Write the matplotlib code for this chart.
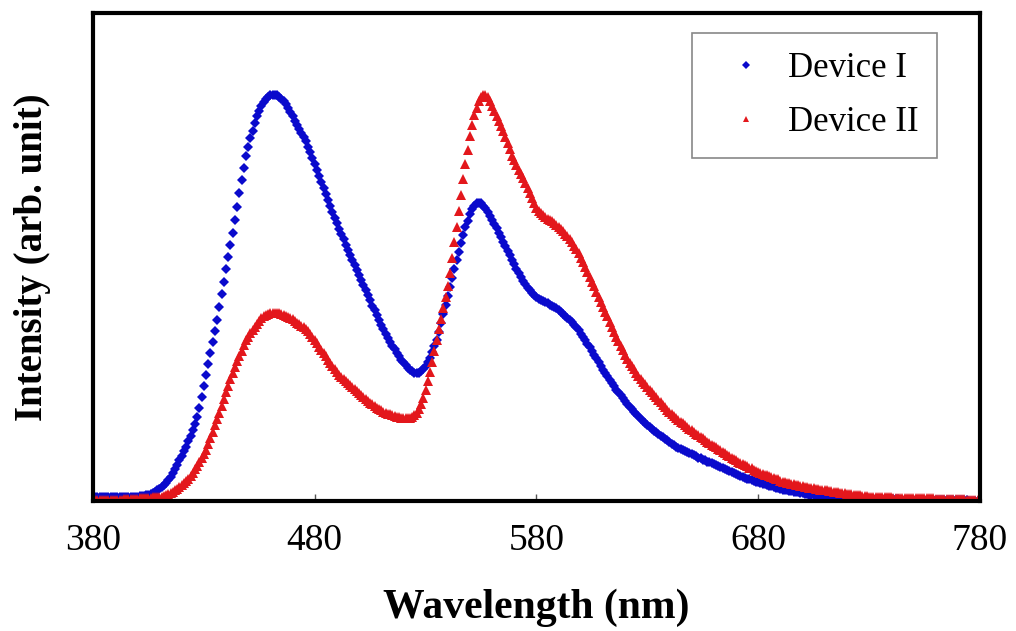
import numpy as np
import matplotlib
matplotlib.use("Agg")
import matplotlib.pyplot as plt

plt.rcParams['font.family'] = ['Liberation Serif', 'DejaVu Serif']

# wavelength grid (nm), 1 nm step as in the measured spectra
wavelength = np.arange(380, 781)

# normalised EL intensity, one value per nm from 380 nm
device_1 = [
    0.010, 0.010, 0.010, 0.010, 0.010, 0.010, 0.010, 0.010, 0.010, 0.010,
    0.010, 0.010, 0.010, 0.010, 0.010, 0.010, 0.010, 0.010, 0.010, 0.010,
    0.011, 0.012, 0.012, 0.013, 0.014, 0.015, 0.017, 0.019, 0.022, 0.026,
    0.030, 0.034, 0.039, 0.045, 0.052, 0.060, 0.068, 0.078, 0.089, 0.100,
    0.111, 0.122, 0.133, 0.147, 0.161, 0.175, 0.190, 0.207, 0.230, 0.255,
    0.282, 0.310, 0.337, 0.365, 0.392, 0.419, 0.446, 0.478, 0.510, 0.540,
    0.570, 0.600, 0.630, 0.660, 0.692, 0.724, 0.757, 0.790, 0.820, 0.850,
    0.872, 0.892, 0.910, 0.929, 0.946, 0.960, 0.972, 0.982, 0.990, 0.995,
    0.999, 1.000, 1.000, 0.998, 0.994, 0.990, 0.985, 0.977, 0.968, 0.957,
    0.946, 0.936, 0.925, 0.915, 0.905, 0.895, 0.885, 0.872, 0.858, 0.845,
    0.830, 0.815, 0.800, 0.785, 0.770, 0.755, 0.740, 0.725, 0.710, 0.697,
    0.684, 0.670, 0.657, 0.644, 0.631, 0.618, 0.605, 0.592, 0.580, 0.568,
    0.556, 0.544, 0.532, 0.519, 0.506, 0.494, 0.481, 0.469, 0.457, 0.445,
    0.434, 0.423, 0.412, 0.402, 0.392, 0.382, 0.373, 0.364, 0.356, 0.348,
    0.341, 0.334, 0.328, 0.323, 0.319, 0.316, 0.315, 0.316, 0.319, 0.324,
    0.331, 0.341, 0.353, 0.366, 0.381, 0.397, 0.417, 0.438, 0.460, 0.482,
    0.504, 0.526, 0.548, 0.570, 0.592, 0.613, 0.634, 0.654, 0.673, 0.690,
    0.705, 0.718, 0.727, 0.732, 0.734, 0.732, 0.727, 0.720, 0.712, 0.702,
    0.692, 0.682, 0.671, 0.660, 0.649, 0.638, 0.627, 0.616, 0.605, 0.594,
    0.583, 0.572, 0.562, 0.552, 0.542, 0.533, 0.525, 0.518, 0.512, 0.507,
    0.502, 0.498, 0.495, 0.492, 0.489, 0.486, 0.483, 0.480, 0.477, 0.474,
    0.470, 0.465, 0.460, 0.455, 0.450, 0.445, 0.440, 0.434, 0.428, 0.420,
    0.412, 0.404, 0.396, 0.387, 0.379, 0.370, 0.360, 0.351, 0.342, 0.332,
    0.323, 0.315, 0.307, 0.298, 0.290, 0.282, 0.274, 0.267, 0.260, 0.253,
    0.246, 0.239, 0.232, 0.226, 0.220, 0.214, 0.208, 0.203, 0.197, 0.192,
    0.187, 0.182, 0.177, 0.173, 0.169, 0.165, 0.161, 0.157, 0.153, 0.149,
    0.145, 0.141, 0.137, 0.134, 0.131, 0.128, 0.125, 0.122, 0.120, 0.117,
    0.115, 0.112, 0.110, 0.107, 0.105, 0.102, 0.100, 0.097, 0.095, 0.093,
    0.090, 0.088, 0.086, 0.083, 0.081, 0.078, 0.076, 0.073, 0.071, 0.068,
    0.066, 0.063, 0.061, 0.059, 0.057, 0.055, 0.053, 0.052, 0.050, 0.048,
    0.046, 0.044, 0.042, 0.041, 0.039, 0.038, 0.036, 0.035, 0.033, 0.031,
    0.029, 0.028, 0.027, 0.026, 0.025, 0.024, 0.023, 0.022, 0.021, 0.020,
    0.019, 0.018, 0.017, 0.016, 0.015, 0.014, 0.014, 0.013, 0.012, 0.012,
    0.011, 0.011, 0.010, 0.010, 0.009, 0.009, 0.008, 0.008, 0.007, 0.007,
    0.007, 0.006, 0.006, 0.006, 0.006, 0.005, 0.005, 0.005, 0.005, 0.005,
    0.004, 0.004, 0.004, 0.004, 0.004, 0.004, 0.004, 0.004, 0.004, 0.004,
    0.004, 0.004, 0.004, 0.004, 0.003, 0.003, 0.003, 0.003, 0.003, 0.003,
    0.003, 0.003, 0.003, 0.002, 0.002, 0.002, 0.002, 0.002, 0.002, 0.002,
    0.002, 0.002, 0.002, 0.002, 0.002, 0.002, 0.002, 0.002, 0.002, 0.002,
    0.002, 0.002, 0.002, 0.002, 0.002, 0.001, 0.001, 0.001, 0.001, 0.001,
    0.001,
]

device_2 = [
    0.003, 0.003, 0.003, 0.003, 0.003, 0.003, 0.003, 0.003, 0.003, 0.003,
    0.003, 0.003, 0.003, 0.003, 0.004, 0.004, 0.004, 0.005, 0.005, 0.006,
    0.006, 0.007, 0.007, 0.007, 0.008, 0.008, 0.008, 0.009, 0.009, 0.010,
    0.010, 0.011, 0.013, 0.015, 0.017, 0.019, 0.022, 0.026, 0.030, 0.034,
    0.039, 0.044, 0.049, 0.055, 0.062, 0.070, 0.078, 0.087, 0.096, 0.105,
    0.115, 0.126, 0.140, 0.155, 0.170, 0.186, 0.201, 0.217, 0.234, 0.251,
    0.268, 0.284, 0.300, 0.315, 0.330, 0.344, 0.357, 0.370, 0.383, 0.395,
    0.404, 0.413, 0.421, 0.429, 0.436, 0.444, 0.450, 0.454, 0.457, 0.460,
    0.462, 0.463, 0.463, 0.463, 0.462, 0.460, 0.458, 0.456, 0.453, 0.450,
    0.447, 0.443, 0.439, 0.435, 0.431, 0.427, 0.423, 0.418, 0.411, 0.404,
    0.396, 0.388, 0.380, 0.372, 0.364, 0.356, 0.347, 0.339, 0.331, 0.324,
    0.317, 0.311, 0.305, 0.300, 0.295, 0.290, 0.285, 0.280, 0.275, 0.270,
    0.265, 0.260, 0.255, 0.250, 0.246, 0.242, 0.238, 0.234, 0.230, 0.226,
    0.223, 0.220, 0.217, 0.215, 0.213, 0.211, 0.209, 0.207, 0.206, 0.205,
    0.204, 0.204, 0.204, 0.205, 0.207, 0.211, 0.217, 0.226, 0.238, 0.253,
    0.272, 0.295, 0.318, 0.343, 0.369, 0.396, 0.422, 0.448, 0.474, 0.501,
    0.530, 0.561, 0.597, 0.636, 0.675, 0.714, 0.753, 0.791, 0.828, 0.864,
    0.897, 0.925, 0.950, 0.968, 0.983, 0.994, 1.000, 0.999, 0.994, 0.984,
    0.972, 0.960, 0.947, 0.934, 0.922, 0.910, 0.896, 0.881, 0.865, 0.850,
    0.838, 0.826, 0.815, 0.805, 0.795, 0.783, 0.770, 0.757, 0.745, 0.733,
    0.722, 0.714, 0.708, 0.703, 0.699, 0.695, 0.692, 0.688, 0.684, 0.680,
    0.675, 0.670, 0.665, 0.658, 0.651, 0.644, 0.636, 0.628, 0.619, 0.609,
    0.598, 0.587, 0.576, 0.564, 0.552, 0.540, 0.528, 0.515, 0.503, 0.490,
    0.478, 0.466, 0.454, 0.441, 0.429, 0.416, 0.404, 0.393, 0.382, 0.371,
    0.360, 0.350, 0.340, 0.332, 0.324, 0.316, 0.308, 0.301, 0.294, 0.287,
    0.280, 0.273, 0.267, 0.261, 0.255, 0.249, 0.243, 0.237, 0.231, 0.225,
    0.220, 0.215, 0.210, 0.205, 0.200, 0.195, 0.191, 0.186, 0.182, 0.178,
    0.174, 0.170, 0.166, 0.162, 0.158, 0.154, 0.150, 0.146, 0.142, 0.139,
    0.135, 0.132, 0.128, 0.125, 0.121, 0.118, 0.114, 0.111, 0.107, 0.104,
    0.100, 0.097, 0.094, 0.091, 0.088, 0.085, 0.082, 0.080, 0.077, 0.074,
    0.071, 0.069, 0.067, 0.065, 0.063, 0.061, 0.059, 0.057, 0.055, 0.053,
    0.050, 0.048, 0.047, 0.045, 0.044, 0.043, 0.042, 0.040, 0.039, 0.038,
    0.037, 0.035, 0.034, 0.033, 0.032, 0.031, 0.030, 0.029, 0.028, 0.028,
    0.027, 0.026, 0.025, 0.024, 0.023, 0.022, 0.021, 0.020, 0.019, 0.019,
    0.018, 0.017, 0.017, 0.016, 0.015, 0.015, 0.014, 0.013, 0.012, 0.012,
    0.011, 0.010, 0.010, 0.010, 0.010, 0.010, 0.009, 0.009, 0.009, 0.009,
    0.009, 0.008, 0.008, 0.008, 0.008, 0.008, 0.008, 0.007, 0.007, 0.007,
    0.007, 0.007, 0.007, 0.007, 0.007, 0.007, 0.007, 0.007, 0.007, 0.007,
    0.006, 0.006, 0.006, 0.006, 0.006, 0.005, 0.005, 0.005, 0.005, 0.005,
    0.004, 0.004, 0.004, 0.004, 0.003, 0.003, 0.003, 0.003, 0.002, 0.002,
    0.002,
]

labels = ["Device I", "Device II"]
xticks = [380, 480, 580, 680, 780]

fig = plt.figure(figsize=(10.16, 6.31), dpi=100)
ax = fig.add_axes([0.0915, 0.206, 0.873, 0.773])

ax.plot(wavelength, device_1, linestyle='none', marker='D', markersize=5.2,
        color='#0a0acc', markeredgewidth=0, label=labels[0])
ax.plot(wavelength, device_2, linestyle='none', marker='^', markersize=6.6,
        color='#e3171c', markeredgewidth=0, label=labels[1])

ax.set_xlim(380, 780)
ax.set_ylim(0, 1.2)
ax.set_xticks(xticks)
ax.set_yticks([])
ax.tick_params(axis='x', direction='in', length=5, width=1, color='#555555',
               labelsize=27, pad=16)

for sp in ax.spines.values():
    sp.set_linewidth(3)
    sp.set_color('black')

ax.set_xlabel("Wavelength (nm)", fontsize=30, fontweight='bold', labelpad=22)
ax.set_ylabel("Intensity (arb. unit)", fontsize=28, fontweight='bold', labelpad=30)

leg = ax.legend(loc='upper right', bbox_to_anchor=(0.952, 0.959), borderaxespad=0,
                fontsize=25, fancybox=False, edgecolor='#888888', framealpha=1,
                handlelength=2.0, handletextpad=0.2, labelspacing=0.6,
                borderpad=0.55, markerscale=0.75)
leg.get_frame().set_linewidth(1.2)

fig.savefig("out.png", dpi=100)
